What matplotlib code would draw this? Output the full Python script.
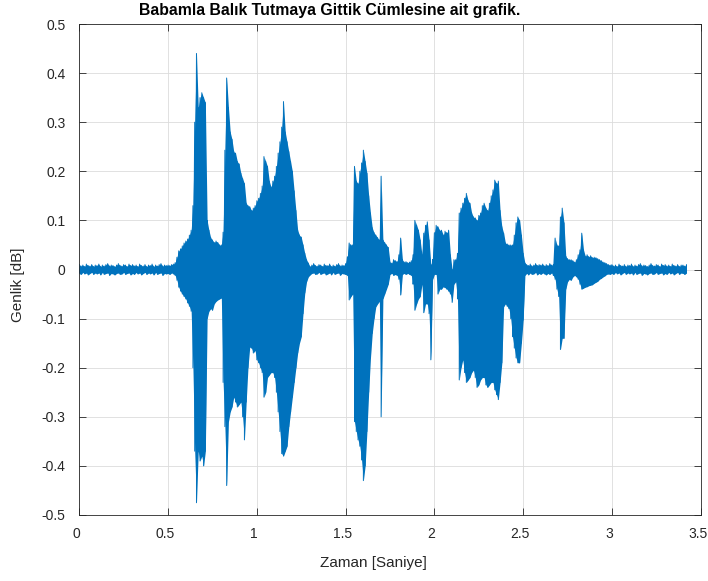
import numpy as np
import matplotlib
matplotlib.use('Agg')
import matplotlib.pyplot as plt
from matplotlib.transforms import ScaledTranslation

plt.rcParams['font.family'] = ['Liberation Sans', 'DejaVu Sans']
plt.rcParams['axes.unicode_minus'] = False

# envelope of the signal, every 0.01 s (upper / lower peaks)
upper = [
    # 0.0 - 0.4 : silence
    0.010, 0.007, 0.009, 0.006, 0.011, 0.008, 0.007, 0.010, 0.006, 0.009,
    0.008, 0.011, 0.006, 0.009, 0.007, 0.010, 0.012, 0.007, 0.009, 0.008,
    0.006, 0.009, 0.012, 0.008, 0.007, 0.010, 0.009, 0.006, 0.011, 0.008,
    0.010, 0.007, 0.009, 0.006, 0.011, 0.008, 0.007, 0.010, 0.006, 0.009,
    0.008, 0.011, 0.006, 0.009, 0.007, 0.010, 0.012, 0.007, 0.009, 0.008,
    # 0.5
    0.009, 0.008, 0.010, 0.011, 0.014, 0.025, 0.038, 0.042, 0.048, 0.054,
    0.058, 0.062, 0.070, 0.080, 0.130, 0.300, 0.440, 0.330, 0.350, 0.360,
    0.350, 0.340, 0.100, 0.080, 0.065, 0.060, 0.055, 0.058, 0.055, 0.050,
    0.050, 0.076, 0.243, 0.390, 0.330, 0.280, 0.265, 0.240, 0.237, 0.220,
    0.215, 0.196, 0.185, 0.175, 0.135, 0.130, 0.128, 0.120, 0.125, 0.130,
    # 1.0
    0.140, 0.145, 0.155, 0.170, 0.230, 0.220, 0.210, 0.180, 0.168, 0.180,
    0.190, 0.210, 0.237, 0.260, 0.290, 0.342, 0.280, 0.260, 0.240, 0.220,
    0.200, 0.160, 0.120, 0.080, 0.070, 0.066, 0.050, 0.033, 0.020, 0.013,
    0.006, 0.009, 0.012, 0.008, 0.007, 0.010, 0.009, 0.006, 0.011, 0.008,
    0.008, 0.011, 0.006, 0.009, 0.007, 0.010, 0.012, 0.007, 0.009, 0.008,
    # 1.5
    0.012, 0.026, 0.054, 0.050, 0.050, 0.210, 0.180, 0.175, 0.200, 0.217,
    0.243, 0.220, 0.196, 0.150, 0.115, 0.085, 0.075, 0.070, 0.065, 0.060,
    0.190, 0.060, 0.055, 0.050, 0.045, 0.015, 0.013, 0.020, 0.018, 0.016,
    0.030, 0.064, 0.020, 0.015, 0.016, 0.014, 0.015, 0.018, 0.030, 0.100,
    0.090, 0.080, 0.060, 0.030, 0.074, 0.090, 0.097, 0.060, 0.010, 0.020,
    # 2.0
    0.075, 0.090, 0.087, 0.080, 0.080, 0.070, 0.078, 0.075, 0.080, 0.030,
    0.000, 0.020, 0.020, 0.033, 0.115, 0.125, 0.135, 0.145, 0.155, 0.140,
    0.135, 0.115, 0.107, 0.105, 0.100, 0.110, 0.115, 0.130, 0.135, 0.125,
    0.120, 0.135, 0.150, 0.162, 0.182, 0.175, 0.180, 0.120, 0.087, 0.074,
    0.054, 0.052, 0.050, 0.050, 0.050, 0.070, 0.095, 0.107, 0.100, 0.070,
    # 2.5
    0.033, 0.013, 0.010, 0.008, 0.011, 0.007, 0.009, 0.012, 0.008, 0.010,
    0.009, 0.011, 0.007, 0.010, 0.008, 0.012, 0.009, 0.010, 0.064, 0.050,
    0.048, 0.107, 0.125, 0.095, 0.027, 0.022, 0.020, 0.020, 0.018, 0.015,
    0.020, 0.030, 0.040, 0.074, 0.040, 0.027, 0.030, 0.026, 0.028, 0.024,
    0.025, 0.024, 0.022, 0.020, 0.018, 0.015, 0.014, 0.012, 0.010, 0.009,
    # 3.0 - 3.4 : silence
    0.010, 0.007, 0.009, 0.006, 0.011, 0.008, 0.007, 0.010, 0.006, 0.009,
    0.008, 0.011, 0.006, 0.009, 0.007, 0.010, 0.012, 0.007, 0.009, 0.008,
    0.006, 0.009, 0.012, 0.008, 0.007, 0.010, 0.009, 0.006, 0.011, 0.008,
    0.010, 0.007, 0.009, 0.006, 0.011, 0.008, 0.007, 0.010, 0.006, 0.009,
    0.009, 0.007, 0.010,
]

lower = [
    # 0.0 - 0.4
    -0.008, -0.010, -0.006, -0.009, -0.007, -0.011, -0.008, -0.006, -0.010, -0.007,
    -0.009, -0.007, -0.011, -0.006, -0.010, -0.008, -0.007, -0.012, -0.008, -0.009,
    -0.011, -0.008, -0.007, -0.010, -0.009, -0.006, -0.010, -0.008, -0.007, -0.011,
    -0.008, -0.010, -0.006, -0.009, -0.007, -0.011, -0.008, -0.006, -0.010, -0.007,
    -0.009, -0.007, -0.011, -0.006, -0.010, -0.008, -0.007, -0.012, -0.008, -0.009,
    # 0.5
    -0.008, -0.010, -0.007, -0.009, -0.012, -0.022, -0.036, -0.044, -0.050, -0.055,
    -0.060, -0.068, -0.075, -0.085, -0.200, -0.370, -0.475, -0.370, -0.390, -0.380,
    -0.400, -0.370, -0.100, -0.085, -0.080, -0.083, -0.070, -0.065, -0.062, -0.060,
    -0.058, -0.230, -0.320, -0.440, -0.310, -0.290, -0.280, -0.260, -0.270, -0.280,
    -0.275, -0.270, -0.300, -0.347, -0.270, -0.200, -0.158, -0.160, -0.170, -0.165,
    # 1.0
    -0.184, -0.190, -0.200, -0.210, -0.260, -0.250, -0.220, -0.215, -0.210, -0.210,
    -0.220, -0.250, -0.290, -0.330, -0.375, -0.380, -0.370, -0.360, -0.320, -0.290,
    -0.260, -0.230, -0.200, -0.170, -0.150, -0.137, -0.090, -0.048, -0.025, -0.015,
    -0.011, -0.008, -0.007, -0.010, -0.009, -0.006, -0.010, -0.008, -0.007, -0.011,
    -0.009, -0.007, -0.011, -0.006, -0.010, -0.008, -0.007, -0.012, -0.008, -0.009,
    # 1.5
    -0.010, -0.012, -0.062, -0.055, -0.050, -0.310, -0.330, -0.347, -0.360, -0.388,
    -0.430, -0.400, -0.330, -0.250, -0.180, -0.130, -0.100, -0.076, -0.070, -0.065,
    -0.300, -0.060, -0.050, -0.040, -0.030, -0.010, -0.008, -0.012, -0.010, -0.012,
    -0.020, -0.052, -0.010, -0.008, -0.010, -0.008, -0.010, -0.012, -0.030, -0.083,
    -0.070, -0.060, -0.055, -0.030, -0.088, -0.070, -0.070, -0.090, -0.184, -0.020,
    # 2.0
    -0.010, -0.010, -0.050, -0.040, -0.040, -0.035, -0.037, -0.040, -0.044, -0.050,
    -0.067, -0.030, -0.025, -0.060, -0.225, -0.200, -0.184, -0.210, -0.230, -0.225,
    -0.220, -0.210, -0.205, -0.220, -0.240, -0.235, -0.225, -0.220, -0.220, -0.235,
    -0.240, -0.235, -0.230, -0.230, -0.245, -0.255, -0.265, -0.230, -0.190, -0.076,
    -0.070, -0.075, -0.080, -0.100, -0.137, -0.160, -0.180, -0.190, -0.190, -0.150,
    # 2.5
    -0.103, -0.012, -0.008, -0.011, -0.007, -0.010, -0.009, -0.006, -0.011, -0.008,
    -0.010, -0.007, -0.009, -0.011, -0.008, -0.010, -0.007, -0.012, -0.020, -0.040,
    -0.055, -0.163, -0.140, -0.140, -0.040, -0.025, -0.020, -0.022, -0.015, -0.012,
    -0.015, -0.020, -0.030, -0.040, -0.038, -0.036, -0.035, -0.033, -0.032, -0.031,
    -0.028, -0.026, -0.024, -0.020, -0.018, -0.015, -0.013, -0.010, -0.009, -0.010,
    # 3.0 - 3.4
    -0.008, -0.010, -0.006, -0.009, -0.007, -0.011, -0.008, -0.006, -0.010, -0.007,
    -0.009, -0.007, -0.011, -0.006, -0.010, -0.008, -0.007, -0.012, -0.008, -0.009,
    -0.011, -0.008, -0.007, -0.010, -0.009, -0.006, -0.010, -0.008, -0.007, -0.011,
    -0.008, -0.010, -0.006, -0.009, -0.007, -0.011, -0.008, -0.006, -0.010, -0.007,
    -0.008, -0.010, -0.007,
]

t = np.arange(len(upper)) * 0.01
xticks = [0, 0.5, 1, 1.5, 2, 2.5, 3, 3.5]
yticks = [-0.5, -0.4, -0.3, -0.2, -0.1, 0, 0.1, 0.2, 0.3, 0.4, 0.5]
blue = '#0072BD'

# zig-zag between the peaks so it looks like the dense waveform
xs = np.repeat(t, 2)
ys = np.column_stack([upper, lower]).ravel()

fig = plt.figure(figsize=(7.08, 5.81), dpi=100)
ax = fig.add_axes([79.3 / 708, 1 - 515 / 581, 621.4 / 708, 491 / 581])
ax.fill_between(t, lower, upper, color=blue, lw=0)
ax.plot(xs, ys, color=blue, lw=0.7)

ax.set_xlim(0, 3.5)
ax.set_ylim(-0.5, 0.5)
ax.set_xticks(xticks)
ax.set_yticks(yticks)
ax.set_xticklabels(['%g' % v for v in xticks])
ax.set_yticklabels(['%g' % v for v in yticks])
ax.grid(True, color='#dcdcdc', lw=0.6)
ax.set_axisbelow(True)
ax.tick_params(direction='in', top=True, right=True, length=5, width=0.6,
               colors='#262626', labelsize=10)
ax.tick_params(axis='y', pad=10)
ax.tick_params(axis='x', pad=9)
for s in ax.spines.values():
    s.set_color('#262626')
    s.set_linewidth(0.6)

shift = ScaledTranslation(-3 / 100, 0, fig.dpi_scale_trans)
for lab in ax.get_xticklabels():
    lab.set_transform(lab.get_transform() + shift)

fig.text(330 / 708, 1 - 10 / 581, 'Babamla Balık Tutmaya Gittik Cümlesine ait grafik.',
         ha='center', va='center', fontsize=11.4, fontweight='bold')
fig.text(373 / 708, 1 - 563 / 581, 'Zaman [Saniye]', ha='center', va='center',
         fontsize=11, color='#262626')
fig.text(18 / 708, 1 - 285 / 581, 'Genlik [dB]', ha='center', va='center',
         rotation=90, fontsize=11, color='#262626')

fig.savefig('out.png', dpi=100)
